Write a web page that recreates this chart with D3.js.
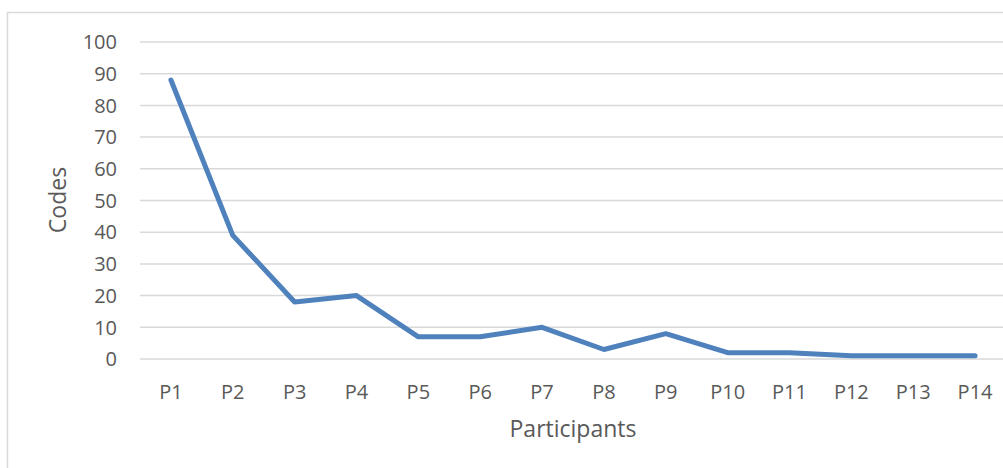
<!DOCTYPE html>
<html><head><meta charset="utf-8">
<script src="https://cdn.jsdelivr.net/npm/d3@7"></script>
<style>body{margin:0;background:#fff}svg{display:block}</style>
</head><body>
<script>
const categories = ["P1","P2","P3","P4","P5","P6","P7","P8","P9","P10","P11","P12","P13","P14"];
const codes = [88,39,18,20,7,7,10,3,8,2,2,1,1,1];
const yTicks = [0,10,20,30,40,50,60,70,80,90,100];
const xTitle = "Participants";
const yTitle = "Codes";

const W = 1003, H = 468;
const font = "'Open Sans', sans-serif";
const svg = d3.select("body").append("svg").attr("width", W).attr("height", H);
svg.append("rect").attr("x",7.5).attr("y",12.5).attr("width",W).attr("height",H)
  .attr("fill","#fff").attr("stroke","#d9d9d9").attr("stroke-width",1.5);

const x = d3.scaleBand().domain(categories).range([140, 1006]);
const y = d3.scaleLinear().domain([0,100]).range([359, 42]);

svg.append("g").selectAll("line").data(yTicks).join("line")
  .attr("x1",140).attr("x2",1003)
  .attr("y1",d=>y(d)).attr("y2",d=>y(d))
  .attr("stroke","#d9d9d9").attr("stroke-width",1.5);

svg.append("g").selectAll("text").data(yTicks).join("text")
  .attr("x",117).attr("y",d=>y(d)).attr("dy","0.36em")
  .attr("text-anchor","end").attr("font-family",font).attr("font-size",20)
  .attr("fill","#595959").text(d=>d);

svg.append("g").selectAll("text").data(categories).join("text")
  .attr("x",d=>x(d)+x.bandwidth()/2).attr("y",399)
  .attr("text-anchor","middle").attr("font-family",font).attr("font-size",20)
  .attr("fill","#595959").text(d=>d);

const line = d3.line().x((d,i)=>x(categories[i])+x.bandwidth()/2).y(d=>y(d));
svg.append("path").datum(codes).attr("d",line).attr("fill","none")
  .attr("stroke","#4f81bd").attr("stroke-width",5)
  .attr("stroke-linejoin","round").attr("stroke-linecap","round");

svg.append("text").attr("x",573).attr("y",437).attr("text-anchor","middle")
  .attr("font-family",font).attr("font-size",23).attr("fill","#595959").text(xTitle);
svg.append("text").attr("transform","translate(66,200) rotate(-90)").attr("text-anchor","middle")
  .attr("font-family",font).attr("font-size",23).attr("fill","#595959").text(yTitle);
</script>
</body></html>
